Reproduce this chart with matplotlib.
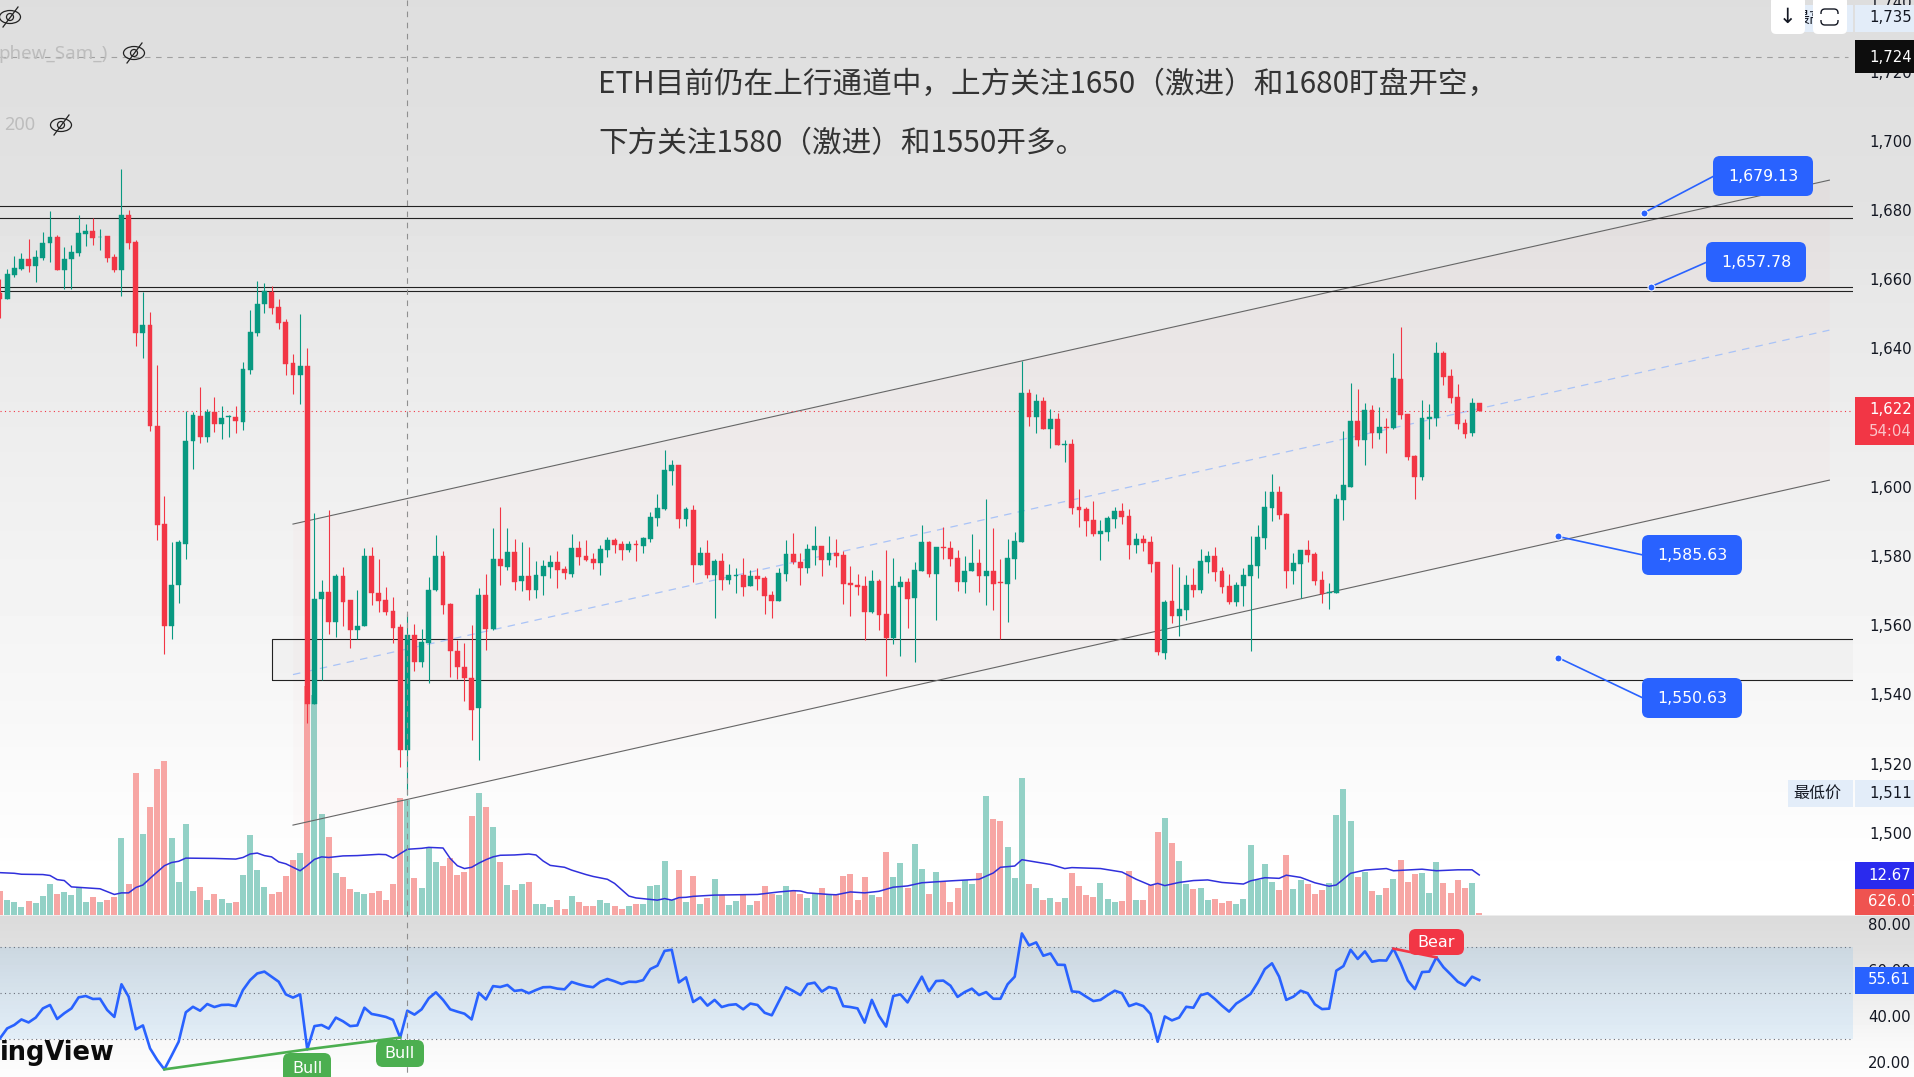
import numpy as np
import matplotlib
matplotlib.use('Agg')
import matplotlib.pyplot as plt
from matplotlib.patches import Rectangle, FancyBboxPatch, Ellipse

plt.rcParams['font.family'] = ['DejaVu Sans', 'Noto Sans CJK SC']

# ETH candles
opens = [
    1656.0, 1654.3, 1661.2, 1663.0, 1665.8, 1663.7, 1666.1, 1670.3, 1672.2, 1662.7,
    1665.7, 1667.5, 1673.1, 1673.9, 1672.2, 1672.4, 1666.3, 1662.6, 1678.5, 1670.8,
    1644.5, 1646.8, 1617.4, 1589.2, 1559.6, 1571.7, 1583.5, 1613.2, 1620.4, 1614.3,
    1621.6, 1618.2, 1620.1, 1620.2, 1618.8, 1633.7, 1644.4, 1652.7, 1656.4, 1651.8,
    1647.6, 1635.8, 1632.3, 1634.9, 1537.2, 1567.4, 1569.6, 1560.9, 1574.1, 1567.2,
    1558.6, 1559.6, 1579.9, 1569.3, 1567.2, 1564.1, 1559.5, 1524.0, 1557.2, 1549.2,
    1554.9, 1570.1, 1579.9, 1566.2, 1552.4, 1547.8, 1544.7, 1536.0, 1568.7, 1559.0,
    1579.0, 1576.8, 1581.1, 1572.7, 1574.2, 1570.1, 1574.2, 1576.8, 1578.2, 1576.2,
    1574.8, 1582.3, 1580.0, 1579.1, 1577.9, 1581.7, 1584.6, 1583.4, 1581.7, 1583.4,
    1582.9, 1584.9, 1591.0, 1593.6, 1604.5, 1606.3, 1590.7, 1593.3, 1577.4, 1580.8,
    1574.5, 1578.5, 1573.0, 1574.2, 1574.5, 1571.3, 1574.2, 1573.6, 1568.7, 1567.0,
    1574.8, 1580.6, 1578.2, 1576.5, 1581.7, 1582.9, 1578.8, 1580.8, 1580.3, 1572.1,
    1571.5, 1571.3, 1563.8, 1572.7, 1563.2, 1556.3, 1571.0, 1572.5, 1567.8, 1575.6,
    1584.0, 1574.8, 1582.6, 1582.3, 1579.4, 1572.5, 1575.6, 1577.9, 1574.2, 1575.6,
    1572.5, 1571.9, 1579.1, 1584.0, 1627.1, 1620.1, 1624.8, 1616.7, 1619.6, 1612.1,
    1612.4, 1594.1, 1593.6, 1590.4, 1586.3, 1586.9, 1590.7, 1593.0, 1591.5, 1583.2,
    1584.9, 1584.0, 1578.2, 1552.0, 1567.0, 1562.6, 1564.4, 1571.6, 1570.1, 1578.2,
    1580.0, 1575.6, 1571.3, 1566.7, 1571.3, 1574.2, 1577.1, 1585.2, 1593.8, 1598.5,
    1592.1, 1575.6, 1577.7, 1581.7, 1580.5, 1573.0, 1569.3, 1569.3, 1596.2, 1599.9,
    1619.0, 1613.5, 1622.2, 1615.5, 1617.3, 1617.0, 1631.1, 1621.0, 1608.9, 1602.8,
    1619.6, 1619.9, 1638.6, 1632.0, 1625.9, 1618.4, 1615.5, 1624.2,
]
closes = [
    1654.3, 1661.4, 1663.2, 1665.8, 1663.7, 1666.3, 1670.3, 1672.1, 1662.7, 1665.7,
    1667.8, 1673.3, 1673.9, 1671.9, 1672.3, 1666.2, 1662.6, 1678.5, 1670.5, 1644.5,
    1646.8, 1617.4, 1589.0, 1559.7, 1571.6, 1584.0, 1613.1, 1620.6, 1614.3, 1621.6,
    1618.2, 1619.8, 1620.3, 1618.9, 1634.0, 1644.8, 1652.8, 1656.5, 1651.7, 1647.4,
    1635.6, 1632.3, 1634.9, 1537.2, 1567.6, 1569.5, 1560.9, 1574.2, 1566.8, 1558.7,
    1559.7, 1579.9, 1569.3, 1567.1, 1563.8, 1559.3, 1524.0, 1557.2, 1549.2, 1555.1,
    1570.1, 1579.9, 1565.9, 1552.4, 1547.8, 1544.7, 1535.6, 1568.7, 1559.0, 1579.0,
    1577.1, 1581.1, 1572.6, 1574.1, 1570.1, 1574.5, 1577.1, 1578.2, 1575.9, 1575.1,
    1582.3, 1579.7, 1578.8, 1577.9, 1582.0, 1584.6, 1583.1, 1581.7, 1583.4, 1583.1,
    1585.2, 1591.2, 1593.8, 1604.8, 1606.3, 1590.7, 1593.6, 1577.4, 1580.8, 1574.5,
    1578.5, 1573.0, 1574.5, 1574.4, 1571.0, 1574.2, 1573.4, 1568.4, 1567.0, 1575.1,
    1580.6, 1578.2, 1576.5, 1582.0, 1582.9, 1578.8, 1580.8, 1580.0, 1571.9, 1571.7,
    1571.1, 1563.8, 1572.7, 1562.9, 1556.3, 1571.3, 1572.5, 1567.5, 1575.9, 1584.0,
    1574.8, 1582.6, 1582.3, 1579.1, 1572.5, 1575.6, 1577.9, 1574.2, 1575.6, 1571.9,
    1572.2, 1579.4, 1584.3, 1627.1, 1620.1, 1624.8, 1616.7, 1619.6, 1612.1, 1612.4,
    1593.8, 1593.3, 1590.1, 1586.3, 1587.2, 1591.0, 1593.0, 1591.2, 1583.2, 1584.9,
    1583.7, 1577.7, 1552.1, 1566.7, 1562.6, 1564.6, 1571.6, 1570.1, 1578.5, 1580.0,
    1575.4, 1571.0, 1566.7, 1571.6, 1574.5, 1577.4, 1585.5, 1594.1, 1598.5, 1591.8,
    1575.6, 1577.9, 1581.7, 1580.3, 1572.7, 1569.0, 1569.6, 1596.4, 1600.5, 1619.0,
    1613.5, 1622.2, 1615.5, 1617.3, 1617.0, 1631.4, 1620.7, 1608.6, 1602.8, 1619.9,
    1620.2, 1638.6, 1631.7, 1625.6, 1618.1, 1615.2, 1624.2, 1622.0,
]
highs = [
    1660.0, 1663.0, 1666.6, 1667.5, 1671.7, 1668.4, 1673.5, 1679.7, 1672.7, 1669.2,
    1670.0, 1678.4, 1675.8, 1677.8, 1674.4, 1672.4, 1667.3, 1691.7, 1680.1, 1671.2,
    1656.3, 1650.4, 1635.1, 1597.2, 1583.9, 1584.5, 1621.9, 1621.6, 1628.9, 1622.6,
    1625.8, 1623.2, 1620.7, 1623.2, 1636.0, 1651.2, 1659.4, 1658.8, 1657.9, 1654.2,
    1648.6, 1638.4, 1649.8, 1640.0, 1592.3, 1572.9, 1593.2, 1574.9, 1576.8, 1567.2,
    1570.1, 1582.3, 1582.7, 1579.1, 1571.0, 1568.0, 1560.3, 1563.2, 1560.3, 1558.9,
    1574.0, 1585.9, 1581.3, 1566.5, 1555.7, 1554.8, 1559.9, 1570.7, 1574.7, 1588.1,
    1594.0, 1588.0, 1584.8, 1584.0, 1582.5, 1578.5, 1578.8, 1580.3, 1581.4, 1577.1,
    1586.3, 1584.3, 1584.6, 1580.7, 1583.1, 1585.5, 1585.2, 1584.3, 1584.3, 1584.6,
    1585.6, 1592.6, 1597.9, 1610.6, 1607.7, 1606.3, 1594.1, 1594.7, 1582.5, 1584.6,
    1579.1, 1580.8, 1577.7, 1576.5, 1579.3, 1575.9, 1576.5, 1574.2, 1569.8, 1576.5,
    1584.6, 1586.6, 1580.8, 1583.4, 1588.6, 1582.9, 1585.8, 1584.9, 1581.4, 1577.1,
    1574.8, 1574.1, 1575.9, 1573.3, 1581.7, 1579.3, 1574.2, 1573.6, 1578.2, 1588.9,
    1584.3, 1582.6, 1588.4, 1584.3, 1581.7, 1580.0, 1586.3, 1582.0, 1596.4, 1588.0,
    1579.1, 1584.9, 1586.8, 1636.4, 1628.1, 1626.8, 1625.8, 1622.5, 1621.3, 1613.5,
    1613.8, 1599.3, 1594.1, 1595.9, 1590.4, 1591.5, 1594.1, 1595.3, 1593.6, 1586.5,
    1586.0, 1585.7, 1578.2, 1567.3, 1577.7, 1576.8, 1574.5, 1576.5, 1582.0, 1581.4,
    1582.6, 1576.8, 1574.8, 1572.5, 1576.5, 1585.7, 1588.9, 1598.8, 1603.7, 1600.2,
    1592.4, 1580.8, 1581.7, 1584.6, 1581.1, 1575.6, 1572.2, 1597.9, 1616.1, 1630.0,
    1628.2, 1624.2, 1623.6, 1623.0, 1619.9, 1638.6, 1646.2, 1621.0, 1609.2, 1625.1,
    1623.9, 1641.8, 1639.2, 1634.0, 1629.7, 1619.6, 1625.6, 1624.2,
]
lows = [
    1648.8, 1654.3, 1660.6, 1662.7, 1662.0, 1659.1, 1665.4, 1665.0, 1662.7, 1657.2,
    1657.2, 1666.8, 1669.6, 1669.9, 1668.5, 1664.8, 1662.0, 1655.2, 1668.7, 1640.6,
    1637.1, 1616.2, 1584.5, 1551.6, 1555.9, 1566.5, 1579.1, 1605.2, 1612.6, 1613.0,
    1615.9, 1613.8, 1614.4, 1615.6, 1616.5, 1632.7, 1643.6, 1650.3, 1650.0, 1645.6,
    1632.4, 1626.9, 1623.8, 1531.8, 1537.2, 1544.0, 1557.3, 1556.7, 1559.7, 1553.3,
    1556.0, 1559.6, 1565.9, 1563.8, 1562.9, 1554.9, 1518.9, 1511.0, 1546.8, 1548.0,
    1543.2, 1569.9, 1563.2, 1545.0, 1544.4, 1538.1, 1526.8, 1521.0, 1552.7, 1558.7,
    1571.6, 1575.9, 1570.1, 1570.0, 1567.3, 1567.9, 1568.7, 1573.7, 1570.7, 1573.3,
    1574.0, 1577.4, 1578.5, 1576.2, 1574.5, 1579.7, 1580.8, 1578.8, 1581.1, 1578.5,
    1580.8, 1584.0, 1588.6, 1593.3, 1600.5, 1588.1, 1588.6, 1572.5, 1577.4, 1573.6,
    1562.1, 1570.1, 1571.9, 1569.3, 1568.4, 1571.3, 1570.1, 1563.2, 1562.1, 1567.0,
    1572.7, 1577.7, 1571.6, 1575.1, 1577.4, 1574.2, 1577.4, 1576.8, 1566.1, 1562.6,
    1568.7, 1555.8, 1563.5, 1558.6, 1545.3, 1554.5, 1551.1, 1559.2, 1549.3, 1575.6,
    1573.9, 1561.5, 1579.1, 1577.1, 1569.9, 1569.3, 1575.6, 1569.6, 1565.8, 1564.4,
    1555.9, 1560.9, 1573.3, 1584.0, 1617.6, 1615.5, 1616.7, 1611.2, 1612.1, 1607.1,
    1592.1, 1588.4, 1585.7, 1585.7, 1578.8, 1584.3, 1588.1, 1589.2, 1579.1, 1580.8,
    1581.4, 1575.4, 1551.4, 1550.2, 1560.6, 1556.8, 1561.5, 1568.1, 1569.3, 1575.1,
    1572.7, 1569.3, 1566.1, 1565.5, 1565.5, 1552.5, 1573.6, 1582.0, 1590.1, 1590.7,
    1570.7, 1571.9, 1567.8, 1578.2, 1571.6, 1566.4, 1564.6, 1569.3, 1590.4, 1599.9,
    1611.8, 1606.3, 1611.2, 1613.8, 1609.7, 1616.7, 1619.6, 1607.7, 1596.4, 1601.9,
    1613.8, 1617.6, 1629.4, 1624.2, 1616.7, 1614.1, 1614.7, 1622.0,
]

# volume in thousands
volumes = [
    7.6, 4.7, 4.1, 2.5, 4.4, 3.8, 6.0, 9.8, 6.6, 7.3,
    6.3, 8.5, 4.1, 5.7, 4.1, 4.7, 5.7, 24.4, 9.8, 44.9,
    25.6, 34.2, 46.2, 48.7, 24.4, 10.4, 28.8, 7.6, 8.9, 4.7,
    6.6, 5.1, 3.8, 4.1, 12.7, 25.3, 14.2, 8.9, 6.6, 7.3,
    12.3, 17.4, 19.6, 72.6, 69.7, 32.0, 24.7, 13.3, 12.0, 8.2,
    7.3, 6.6, 7.0, 7.6, 4.7, 9.8, 37.0, 36.4, 11.7, 8.5,
    21.2, 16.8, 15.5, 18.0, 12.7, 13.6, 31.3, 38.6, 34.2, 27.8,
    16.8, 9.5, 7.9, 9.8, 10.4, 3.5, 3.5, 2.5, 4.7, 1.9,
    6.0, 4.1, 2.8, 2.8, 4.7, 3.8, 2.8, 1.9, 2.8, 3.5,
    3.5, 9.2, 9.5, 17.1, 4.7, 14.2, 4.1, 12.3, 3.5, 5.4,
    11.4, 6.3, 3.2, 4.4, 6.6, 3.2, 4.4, 9.2, 6.6, 6.3,
    9.2, 7.6, 6.6, 5.4, 6.6, 8.5, 6.3, 6.3, 12.3, 13.0,
    4.7, 12.0, 6.3, 5.7, 19.9, 12.0, 16.5, 8.5, 22.5, 14.6,
    6.6, 13.6, 10.4, 4.1, 8.5, 11.1, 9.8, 13.3, 37.7, 30.4,
    29.7, 21.5, 11.7, 43.4, 9.8, 8.5, 4.7, 5.4, 4.1, 5.4,
    13.3, 9.2, 6.3, 5.7, 10.1, 5.1, 4.1, 4.4, 13.9, 4.7,
    4.7, 9.5, 26.3, 30.7, 22.8, 17.1, 9.8, 8.2, 8.5, 4.7,
    5.1, 3.8, 4.4, 3.5, 5.1, 22.2, 11.1, 16.1, 10.4, 7.9,
    19.0, 8.2, 11.1, 9.8, 6.6, 7.9, 10.1, 31.6, 39.9, 29.7,
    12.0, 13.6, 7.6, 6.3, 8.5, 11.4, 17.4, 10.4, 13.0, 13.3,
    7.0, 16.8, 10.1, 7.0, 11.1, 8.5, 10.1, 0.626,
]

# volume moving average, read at its turning points
ma_bars = [
    0, 2, 3, 6, 7, 8, 9, 10, 12, 14, 16, 17, 18, 19, 20, 21, 23, 24, 25, 26,
    30, 33, 34, 35, 36, 37, 38, 39, 40, 41, 42, 43, 44, 45, 46, 48, 50, 53, 54, 55,
    56, 57, 59, 60, 62, 63, 64, 65, 66, 67, 68, 69, 70, 72, 74, 75, 76, 77, 79, 80,
    82, 83, 85, 86, 88, 89, 92, 93, 94, 95, 96, 97, 100, 106, 109, 111, 112, 113, 116, 117,
    119, 121, 123, 125, 127, 129, 133, 137, 139, 140, 142, 143, 147, 149, 150, 154, 157, 159, 161, 162,
    163, 165, 167, 169, 171, 174, 175, 177, 179, 180, 182, 184, 186, 187, 189, 191, 194, 195, 199, 201,
    204, 206, 207,
]
ma_values = [
    13.4, 13.2, 12.9, 12.8, 12.5, 11.2, 10.9, 8.9, 8.6, 8.3, 6.5, 7.0, 7.0, 8.7, 9.5, 11.6, 15.6, 16.6, 17.0, 18.0,
    17.9, 17.7, 18.2, 19.3, 19.6, 18.8, 18.4, 16.8, 16.2, 15.1, 14.0, 15.7, 17.6, 18.4, 18.2, 18.7, 18.8, 19.2, 19.1, 18.0,
    19.4, 20.8, 21.1, 21.4, 21.2, 17.9, 15.6, 14.7, 15.1, 16.4, 17.5, 18.4, 18.9, 19.0, 19.3, 19.0, 17.1, 15.7, 15.1, 14.2,
    12.8, 12.2, 11.3, 10.0, 6.0, 5.4, 4.7, 5.2, 4.7, 5.5, 5.6, 5.9, 6.3, 6.5, 7.3, 7.7, 7.6, 7.0, 6.5, 6.4,
    7.3, 7.0, 7.5, 8.8, 9.2, 10.2, 10.8, 11.3, 13.3, 15.1, 15.5, 17.5, 16.0, 14.7, 15.0, 14.7, 13.6, 11.3, 9.4, 10.0,
    9.3, 10.3, 10.9, 11.1, 10.3, 9.8, 10.8, 11.8, 11.6, 12.6, 11.9, 10.2, 9.1, 9.5, 13.2, 14.2, 14.7, 14.0, 14.5, 14.0,
    14.3, 14.3, 12.67,
]

# RSI
rsi = [
    30.3, 34.6, 36.1, 38.5, 37.2, 39.3, 43.3, 44.8, 38.7, 41.2,
    43.3, 48.1, 48.7, 47.4, 47.5, 42.6, 39.6, 53.8, 48.4, 34.2,
    35.9, 25.9, 20.9, 16.8, 22.7, 28.8, 41.6, 44.0, 42.3, 45.2,
    43.9, 44.8, 44.9, 44.3, 51.3, 55.6, 58.5, 59.3, 57.1, 54.9,
    49.4, 48.0, 49.4, 25.5, 35.6, 36.1, 34.5, 39.3, 37.7, 35.6,
    35.9, 43.6, 40.9, 40.3, 39.6, 38.3, 30.6, 42.3, 40.6, 42.9,
    47.7, 50.3, 47.0, 42.9, 41.9, 41.0, 38.5, 50.1, 47.2, 53.0,
    52.6, 53.5, 50.9, 51.3, 49.9, 51.3, 52.5, 52.6, 51.9, 51.6,
    54.8, 53.8, 53.0, 52.5, 54.9, 56.1, 55.1, 53.9, 54.9, 54.8,
    55.6, 60.4, 61.9, 68.3, 68.8, 54.6, 56.8, 46.1, 48.1, 44.5,
    47.0, 43.9, 44.8, 45.1, 42.9, 45.4, 44.8, 41.4, 40.3, 46.4,
    52.5, 50.9, 49.1, 53.9, 54.5, 50.6, 52.6, 51.9, 44.3, 43.9,
    43.3, 37.1, 47.0, 40.1, 35.4, 48.7, 49.4, 45.9, 51.6, 57.1,
    50.7, 55.2, 55.4, 53.2, 48.3, 50.4, 51.9, 49.1, 50.4, 47.5,
    47.5, 53.8, 57.1, 75.9, 70.7, 72.0, 66.2, 67.2, 62.3, 62.2,
    50.7, 50.4, 48.4, 46.5, 47.0, 49.1, 51.0, 49.9, 44.3, 45.4,
    44.3, 40.9, 28.8, 39.8, 38.1, 39.3, 44.0, 43.6, 49.0, 49.9,
    47.4, 44.5, 41.9, 45.4, 47.4, 49.6, 54.5, 60.4, 62.9, 57.1,
    47.0, 48.4, 51.0, 49.9, 45.1, 43.0, 43.2, 59.7, 61.7, 68.8,
    64.8, 68.1, 63.6, 64.2, 64.1, 69.3, 62.9, 55.4, 51.7, 59.1,
    59.3, 65.5, 61.2, 58.1, 54.9, 53.2, 57.1, 55.61,
]

# drawing tools on the price pane
resistance_levels = [1681.2, 1677.6, 1657.6, 1656.5]
zone_low, zone_high = 1544.0, 1556.0
channel_bars = [41, 256]
channel_upper = [1589.2, 1688.6]
channel_lower = [1502.2, 1601.9]
channel_mid = [1545.7, 1645.25]

callout_values = [1679.13, 1657.78, 1585.63, 1550.63]
callout_bars = [230, 231, 218, 218]
callout_boxes = [(1713, 156), (1706, 242), (1642, 535), (1642, 678)]

price_ticks = list(range(1500, 1760, 20))
rsi_ticks = [20, 40, 60, 80]
last_price = 1622
cross_bar = 57
cross_price = 1724.3

bull_bars = [23, 43, 56]
bear_bars = [195, 201]

UP = '#089981'
DOWN = '#f23645'
BLUE = '#2962ff'
TXT = '#131722'
TAG_BG = '#e3edf9'
AXIS_FONT = 10.7

W, H = 1914, 1077
AXIS_X = 1853
PANE_Y = 915
BAR_PX = 7.146

fig = plt.figure(figsize=(W / 100, H / 100), dpi=100)

# background shading, behind everything
bg = fig.add_axes([0, 0, 1, 1], zorder=0)
rows = np.arange(H)
shade = np.interp(rows, [0, 200, 300, 500, 700, 860, 914, 916, 950, 1000, 1040, 1076],
                  [222, 226, 232, 240, 247, 254, 255, 219, 224, 238, 248, 253])
bg.imshow(shade[:, None], cmap='gray', vmin=0, vmax=255, aspect='auto', extent=[0, W, H, 0])
bg.axis('off')

pane_rect = [0, (H - PANE_Y) / H, AXIS_X / W, PANE_Y / H]
rsi_rect = [0, 0, AXIS_X / W, (H - PANE_Y) / H]
x_max = AXIS_X / BAR_PX
bars = np.arange(len(closes))
o, c, hi, lo = map(np.array, (opens, closes, highs, lows))
is_up = c >= o

# volume sits in the bottom of the price pane on its own scale
ax_vol = fig.add_axes(pane_rect, zorder=1)
ax_vol.patch.set_visible(False)
ax_vol.set_xlim(0, x_max)
ax_vol.set_ylim(0, PANE_Y / 3.16)
ax_vol.bar(bars, volumes, width=0.84, color=['#93d1c6' if u else '#f7a6a4' for u in is_up], linewidth=0)
ax_vol.plot(ma_bars, ma_values, color='#3030dc', lw=1.1)
ax_vol.axis('off')

ax = fig.add_axes(pane_rect, zorder=2)
ax.patch.set_visible(False)
ax.set_xlim(0, x_max)
ax.set_ylim(1700 - (PANE_Y - 140.7) / 3.46, 1700 + 140.7 / 3.46)

# channel and zone
ax.fill_between(channel_bars, channel_lower, channel_upper, color=DOWN, alpha=0.018, linewidth=0)
ax.plot(channel_bars, channel_upper, color='#666666', lw=0.8)
ax.plot(channel_bars, channel_lower, color='#666666', lw=0.8)
ax.plot(channel_bars, channel_mid, color='#a9c3f7', lw=0.9, ls=(0, (6, 5)))
ax.add_patch(Rectangle((38.1, zone_low), x_max, zone_high - zone_low, facecolor='#888888', alpha=0.04, linewidth=0))
ax.add_patch(Rectangle((38.1, zone_low), x_max, zone_high - zone_low, fill=False, edgecolor='#222222', lw=0.8))
for level in resistance_levels:
    ax.axhline(level, color='#222222', lw=0.8)

ax.axhline(last_price, color=DOWN, lw=0.8, ls=(0, (1, 3)))
ax.plot([0, x_max - 0.7], [cross_price, cross_price], color='#a0a0a0', lw=0.8, ls=(0, (5, 5)))

# candles
colors = [UP if u else DOWN for u in is_up]
ax.vlines(bars, lo, hi, colors=colors, lw=0.8, zorder=3)
ax.bar(bars, np.abs(c - o), bottom=np.minimum(o, c), width=0.68, color=colors,
       edgecolor=colors, linewidth=0.3, zorder=4)

ax.yaxis.tick_right()
ax.set_yticks(price_ticks)
ax.set_yticklabels([f'{t:,}' for t in price_ticks])
ax.tick_params(axis='y', length=0, pad=12, labelsize=AXIS_FONT, labelcolor=TXT)
ax.set_xticks([])
for s in ax.spines.values():
    s.set_visible(False)

# RSI pane
ax_r = fig.add_axes(rsi_rect, zorder=2)
ax_r.patch.set_visible(False)
ax_r.set_xlim(0, x_max)
ax_r.set_ylim(40 - (H - 1016) / 2.3, 40 + (1016 - PANE_Y) / 2.3)
ax_r.axhspan(30, 70, color='#2196f3', alpha=0.1, linewidth=0)
for band in (30, 50, 70):
    ax_r.axhline(band, color='#6a6f7a', lw=0.8, ls=(0, (1, 3)))
ax_r.plot(bars, rsi, color=BLUE, lw=1.9)
ax_r.plot(bull_bars, [rsi[b] for b in bull_bars], color='#4caf50', lw=1.9)
ax_r.plot(bear_bars, [rsi[b] for b in bear_bars], color=DOWN, lw=1.9)
ax_r.yaxis.tick_right()
ax_r.set_yticks(rsi_ticks)
ax_r.set_yticklabels([f'{t:.2f}' for t in rsi_ticks])
ax_r.tick_params(axis='y', length=0, pad=11, labelsize=AXIS_FONT, labelcolor=TXT)
ax_r.set_xticks([])
for s in ax_r.spines.values():
    s.set_visible(False)

# overlay in figure pixels for tags, callouts and text
fg = fig.add_axes([0, 0, 1, 1], zorder=5)
fg.patch.set_visible(False)
fg.set_xlim(0, W)
fg.set_ylim(H, 0)
fg.axis('off')


def to_px(bar, price):
    return fg.transData.inverted().transform(ax.transData.transform((bar, price)))


def tag(x0, y0, x1, y1, color):
    fg.add_patch(Rectangle((x0, y0), x1 - x0, y1 - y0, facecolor=color, linewidth=0))


def round_box(x0, y0, w, h, color, text, size=11.3):
    fg.add_patch(FancyBboxPatch((x0 + 6, y0 + 6), w - 12, h - 12, boxstyle='round,pad=6,rounding_size=7',
                                facecolor=color, linewidth=0, zorder=3))
    fg.text(x0 + w / 2, y0 + h / 2 + 0.5, text, color='white', fontsize=size,
            ha='center', va='center', zorder=4)


def eye(cx, cy):
    fg.add_patch(Ellipse((cx, cy), 21, 13, fill=False, edgecolor='#222222', lw=0.9))
    fg.add_patch(Ellipse((cx, cy), 7, 7, fill=False, edgecolor='#222222', lw=0.9))
    fg.plot([cx - 7, cx + 8], [cy + 10, cy - 10], color='#222222', lw=0.9)


# dashed crosshair column
fg.plot([cross_bar * BAR_PX] * 2, [0, H], color='#8f8f8f', lw=0.8, ls=(0, (5, 5)))

# channel callouts
for value, bar, (bx, by) in zip(callout_values, callout_bars, callout_boxes):
    px, py = to_px(bar, value)
    fg.plot([px, bx + 1], [py, by + 20], color=BLUE, lw=1.2, zorder=2)
    fg.plot(px, py, 'o', color=BLUE, ms=5, mec='white', mew=0.7, zorder=2)
    round_box(bx, by, 100, 40, BLUE, f'{value:,.2f}')

# divergence labels
round_box(283, 1053, 48, 30, '#4caf50', 'Bull', size=11.5)
round_box(376, 1040, 48, 27, '#4caf50', 'Bull', size=11.5)
round_box(1409, 929, 55, 26, DOWN, 'Bear', size=11.5)

# axis tags
tag(1855, 40, W, 73, '#0d0d0d')
fg.text(1869, 57, f'{cross_price:,.0f}', color='white', fontsize=AXIS_FONT, va='center')
tag(1855, 397, W, 445, DOWN)
fg.text(1869, 410, f'{last_price:,}', color='white', fontsize=AXIS_FONT, va='center')
fg.text(1869, 431, '54:04', color='#fbc4c9', fontsize=AXIS_FONT, va='center')
tag(1855, 862, W, 889, '#2a2aee')
fg.text(1868, 875, f'{ma_values[-1]:.2f}', color='white', fontsize=AXIS_FONT, va='center')
tag(1855, 889, W, 915, '#ef5350')
fg.text(1868, 902, '626.07', color='white', fontsize=AXIS_FONT, va='center')
tag(1855, 967, W, 994, BLUE)
fg.text(1868, 980, f'{rsi[-1]:.2f}', color='white', fontsize=AXIS_FONT, va='center')

# session high and low
tag(1788, 780, 1853, 807, TAG_BG)
tag(1855, 780, W, 807, TAG_BG)
fg.text(1793, 793, '最低价', family='Noto Sans CJK SC', color=TXT, fontsize=11.5, va='center')
fg.text(1869, 793, '1,511', color=TXT, fontsize=AXIS_FONT, va='center')
tag(1788, 5, 1853, 32, TAG_BG)
tag(1855, 5, W, 32, TAG_BG)
fg.text(1793, 18, '最高价', family='Noto Sans CJK SC', color=TXT, fontsize=11.5, va='center')
fg.text(1869, 17, '1,735', color=TXT, fontsize=AXIS_FONT, va='center')

# chart buttons
for x0 in (1771, 1813):
    fg.add_patch(FancyBboxPatch((x0 + 4, 0), 26, 30, boxstyle='round,pad=4,rounding_size=5',
                                facecolor='white', linewidth=0, zorder=3))
fg.text(1787, 17, '↓', fontsize=15, color=TXT, ha='center', va='center', zorder=4)
fg.add_patch(FancyBboxPatch((1824, 12), 11, 10, boxstyle='round,pad=3,rounding_size=4', fill=False,
                            edgecolor=TXT, lw=1, zorder=4))
fg.add_patch(Rectangle((1819, 14), 22, 6, facecolor='white', linewidth=0, zorder=4))

# legend leftovers on the top left
fg.text(-2, 54, 'phew_Sam_)', family='Noto Sans', color='#bdbdbd', fontsize=13.5, va='center')
fg.text(4, 125, '200', family='Noto Sans', color='#bdbdbd', fontsize=13, va='center')
eye(10, 17)
eye(134, 53)
eye(61, 125)

# comment text
fg.text(598, 84, 'ETH目前仍在上行通道中，上方关注1650（激进）和1680盯盘开空，',
        family='Noto Sans CJK SC', fontsize=21.3, color='#333333', va='center')
fg.text(598, 144, '下方关注1580（激进）和1550开多。',
        family='Noto Sans CJK SC', fontsize=21.3, color='#333333', va='center')

fg.text(0, 1053, 'ingView', color='#0c0c0c', fontsize=18.5, fontweight='bold', va='center')

fig.savefig('out.png', dpi=100)
